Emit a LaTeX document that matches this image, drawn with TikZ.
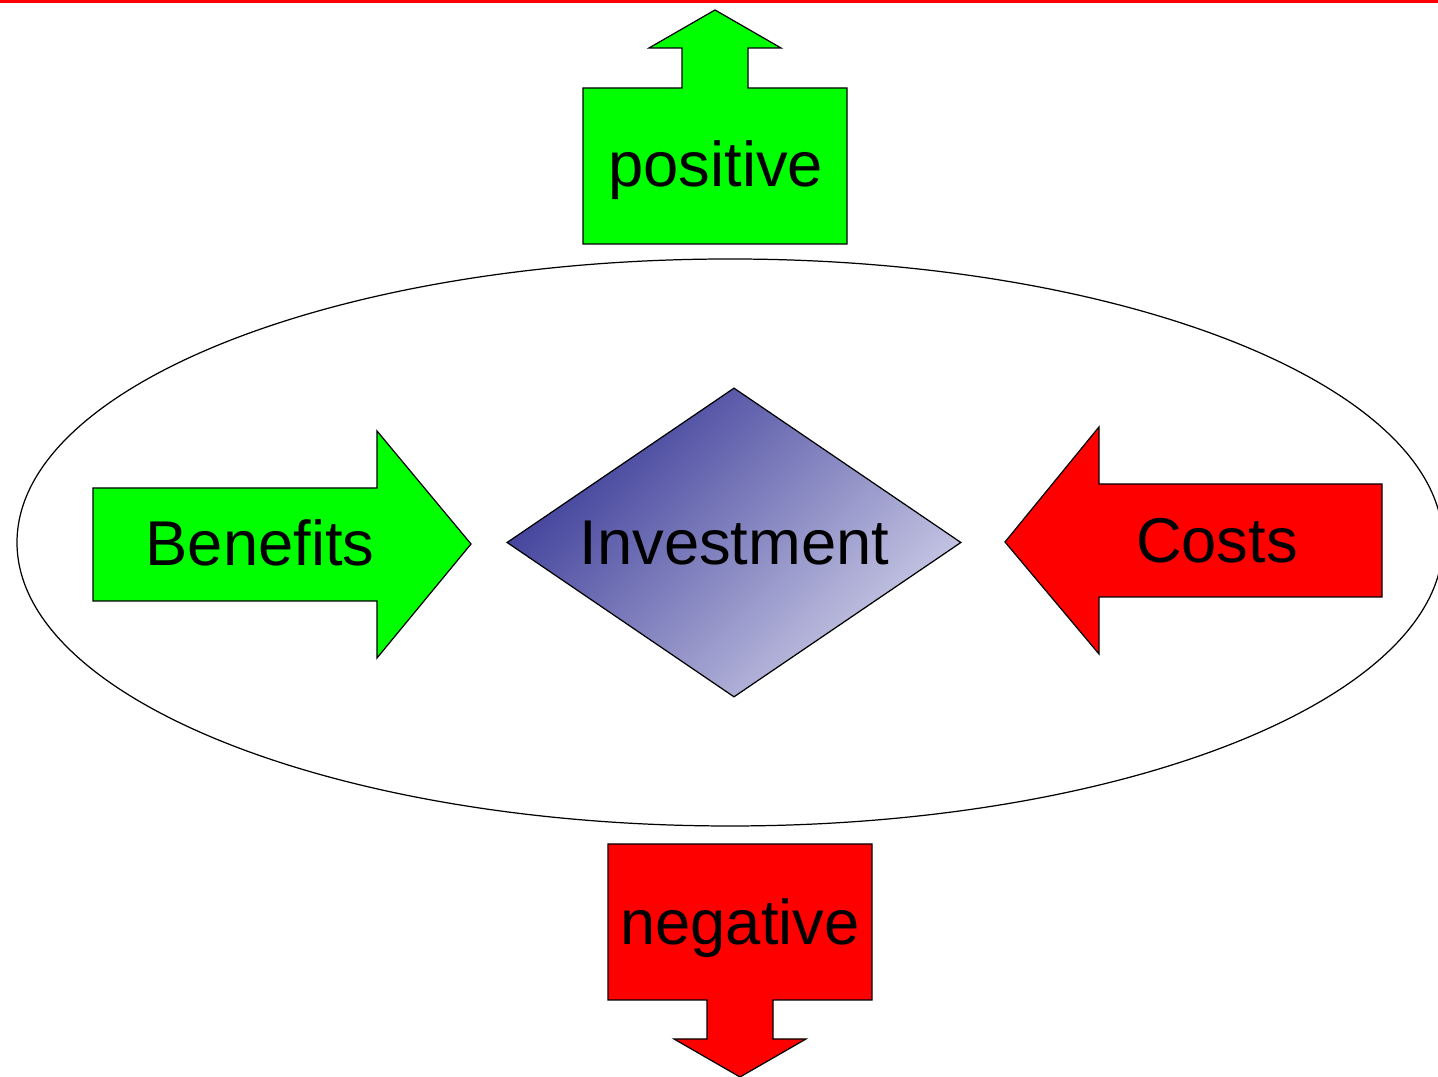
\documentclass[tikz,border=0pt]{standalone}
\usepackage{fontspec}
\setmainfont{Liberation Sans}
\usetikzlibrary{shapes.geometric}

\definecolor{diadark}{RGB}{58,58,152}
\definecolor{dialight}{RGB}{206,206,232}

\tikzset{
	outline/.style={draw=black, line width=0.35pt},
	greenarrow/.style={outline, fill=green},
	redarrow/.style={outline, fill=red},
	word/.style={font=\fontsize{18}{18}\selectfont, text=black, inner sep=0pt, anchor=base}
}

\begin{document}
\begin{tikzpicture}[x=0.01cm, y=-0.01cm]
	\useasboundingbox (0,0) rectangle (1438,1077);
	\clip (0,0) rectangle (1438,1077);

	\draw[red, line width=1pt] (0,1) -- (1438,1);

	% frame round the decision
	\draw[line width=0.35pt] (730,542.5) ellipse (713 and 283.5);

	% arrows
	\filldraw[greenarrow] (93,488) -- (377,488) -- (377,431) -- (471,544) -- (377,658) -- (377,601) -- (93,601) -- cycle;
	\filldraw[redarrow] (1382,484) -- (1099,484) -- (1099,427) -- (1005,542) -- (1099,654) -- (1099,597) -- (1382,597) -- cycle;
	\filldraw[greenarrow] (583,244) -- (583,88) -- (682,88) -- (682,48) -- (649,48) -- (715,10) -- (781,48) -- (748,48) -- (748,88) -- (847,88) -- (847,244) -- cycle;
	\filldraw[redarrow] (608,844) -- (608,1000) -- (707,1000) -- (707,1039) -- (674,1039) -- (740,1077) -- (806,1039) -- (773,1039) -- (773,1000) -- (872,1000) -- (872,844) -- cycle;

	\node[diamond, outline, top color=diadark, bottom color=dialight, shading angle=45,
		minimum width=4.54cm, minimum height=3.09cm, inner sep=0pt] (investment) at (734,542.5) {};
	\node[word] (invlabel) at (734.5,565) {Investment};

	\node[word] (benefits) at (260,566) {Benefits};
	\node[word] (costs) at (1217,562.7) {Costs};
	\node[word] (positive) at (715.7,186.7) {positive};
	\node[word] (negative) at (740,945) {negative};
\end{tikzpicture}
\end{document}
